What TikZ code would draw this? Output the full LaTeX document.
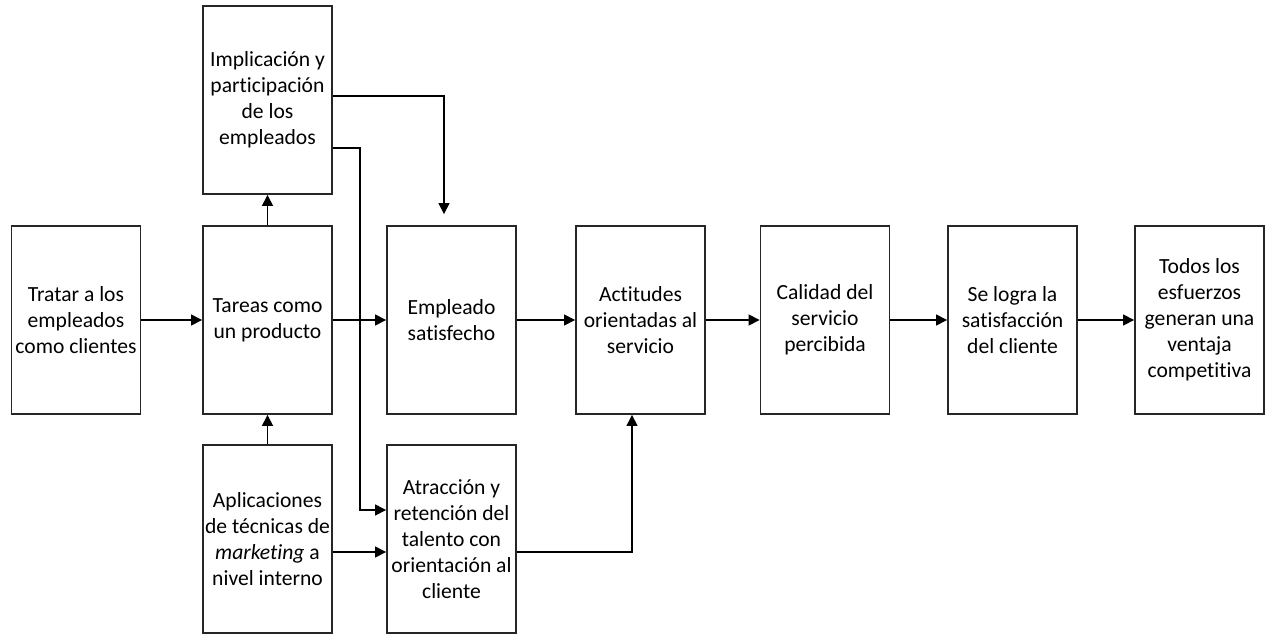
\documentclass[tikz,border=0pt]{standalone}
\usepackage{fontspec}
\setmainfont{Carlito}[Ligatures=NoCommon]
\usetikzlibrary{arrows.meta}
\begin{document}
\begin{tikzpicture}[x=1pt,y=-1pt,
  stepbox/.style={draw=black!85, line width=1.8pt, minimum width=129pt, minimum height=188pt,
    inner sep=0pt, align=center, font=\fontsize{21.6}{26}\selectfont},
  conn/.style={draw=black, line width=1.1pt, -{Triangle[length=11pt,width=11pt]}}]
\useasboundingbox (0,0) rectangle (1265,634);

% column of employee-related factors
\node[stepbox] (trat) at (76,320) {Tratar a los\\empleados\\como clientes};
\node[stepbox] (tar) at (267.5,320) {Tareas como\\un producto};
\node[stepbox] (imp) at (267.5,100) {Implicación y\\participación\\de los\\empleados};
\node[stepbox] (apl) at (267.5,539) {Aplicaciones\\de técnicas de\\\textit{marketing} a\\nivel interno};

% outcome chain
\node[stepbox] (emp) at (451.5,320) {Empleado\\satisfecho};
\node[stepbox] (atr) at (451.5,539) {Atracción y\\retención del\\talento con\\orientación al\\cliente};
\node[stepbox] (act) at (640.5,320) {Actitudes\\orientadas al\\servicio};
\node[stepbox] (cal) at (825,320) {Calidad del\\servicio\\percibida};
\node[stepbox] (selo) at (1012.5,320) {Se logra la\\satisfacción\\del cliente};
\node[stepbox] (todos) at (1199.5,320) {Todos los\\esfuerzos\\generan una\\ventaja\\competitiva};

% bend points of the routed connectors
\coordinate (k1) at (444,96);
\coordinate (k2) at (360,148);
\coordinate (k3) at (360,510);
\coordinate (k4) at (632,552);

% main horizontal flow
\draw[conn] (trat) -- (tar);
\draw[conn] (tar) -- (emp);
\draw[conn] (emp) -- (act);
\draw[conn] (act) -- (cal);
\draw[conn] (cal) -- (selo);
\draw[conn] (selo) -- (todos);

% vertical links into the product column
\draw[conn] (tar.north) -- (imp.south);
\draw[conn] (apl.north) -- (tar.south);

% routed links
\draw[conn, shorten >=11pt] (imp.east |- k1) -| (emp.north -| k1);
\draw[conn] (imp.east |- k2) -- (k2) -- (k3) -- (atr.west |- k3);
\draw[conn] (apl.east |- k4) -- (atr.west |- k4);
\draw[conn] (atr.east |- k4) -| (act.south -| k4);
\end{tikzpicture}
\end{document}
